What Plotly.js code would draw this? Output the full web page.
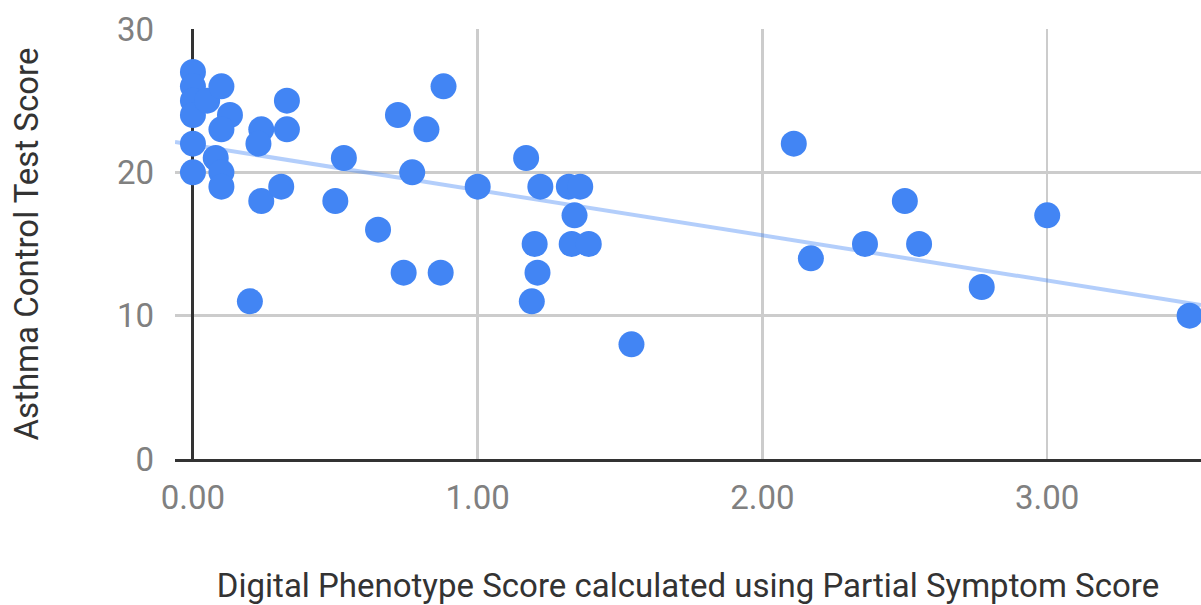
<!DOCTYPE html>
<html>
<head>
<meta charset="utf-8">
<script src="https://cdn.plot.ly/plotly-3.0.1.min.js"></script>
<style>html,body{margin:0;padding:0;background:#fff;}#chart{width:1201px;height:605px;}</style>
</head>
<body>
<div id="chart"></div>
<script>
// Digital Phenotype Score (x) vs Asthma Control Test Score (y)
const phenotypeScore = [
  0.00, 0.00, 0.00, 0.00, 0.05, 0.10, 0.13, 0.10, 0.00, 0.00, 0.08, 0.10, 0.10,
  0.20, 0.24, 0.23, 0.24, 0.33, 0.33, 0.31, 0.50, 0.53, 0.65, 0.72, 0.74, 0.77, 0.82, 0.87, 0.88,
  1.00, 1.17, 1.22, 1.32, 1.36, 1.34, 1.20, 1.33, 1.39, 1.21, 1.19, 1.54,
  2.11, 2.17, 2.36, 2.50, 2.55, 2.77, 3.00, 3.50
];
const actScore = [
  27, 26, 25, 24, 25, 26, 24, 23, 22, 20, 21, 20, 19,
  11, 23, 22, 18, 25, 23, 19, 18, 21, 16, 24, 13, 20, 23, 13, 26,
  19, 21, 19, 19, 19, 17, 15, 15, 15, 13, 11, 8,
  22, 14, 15, 18, 15, 12, 17, 10
];
const xTickVals = [0, 1, 2, 3];
const xTickText = ["0.00", "1.00", "2.00", "3.00"];
const yTickVals = [0, 10, 20, 30];
const xRange = [-0.063, 3.54];
const yRange = [0, 30];

// linear least-squares trendline computed from the data
const n = phenotypeScore.length;
const mx = phenotypeScore.reduce((a, b) => a + b, 0) / n;
const my = actScore.reduce((a, b) => a + b, 0) / n;
let sxy = 0, sxx = 0;
for (let i = 0; i < n; i++) {
  sxy += (phenotypeScore[i] - mx) * (actScore[i] - my);
  sxx += (phenotypeScore[i] - mx) ** 2;
}
const slope = sxy / sxx;
const intercept = my - slope * mx;
const trendX = [xRange[0], xRange[1]];
const trendY = trendX.map(v => intercept + slope * v);

const traces = [
  {
    x: trendX, y: trendY, type: 'scatter', mode: 'lines',
    line: {color: 'rgba(66,133,244,0.4)', width: 4},
    hoverinfo: 'skip', showlegend: false
  },
  {
    x: phenotypeScore, y: actScore, type: 'scatter', mode: 'markers',
    marker: {color: '#4285F4', size: 26, line: {width: 0}},
    showlegend: false
  }
];

const font = 'Roboto, Arial, sans-serif';
const layout = {
  width: 1201, height: 605,
  margin: {l: 175, r: 0, t: 29, b: 146},
  paper_bgcolor: '#fff', plot_bgcolor: '#fff',
  showlegend: false,
  xaxis: {
    range: xRange, tickvals: xTickVals, ticktext: xTickText,
    showgrid: true, gridcolor: '#cccccc', gridwidth: 2.5,
    zeroline: true, zerolinecolor: '#333333', zerolinewidth: 3,
    showline: true, linecolor: '#333333', linewidth: 3,
    ticks: '', ticklabelstandoff: 7,
    tickfont: {family: font, size: 33, color: '#808080'},
    title: {text: 'Digital Phenotype Score calculated using Partial Symptom Score',
            font: {family: font, size: 33, color: '#333333'}, standoff: 66}
  },
  yaxis: {
    range: yRange, tickvals: yTickVals,
    showgrid: true, gridcolor: '#cccccc', gridwidth: 2.5,
    zeroline: false, showline: false,
    ticks: '', ticklabelstandoff: 20,
    tickfont: {family: font, size: 33, color: '#808080'},
    title: {text: 'Asthma Control Test Score',
            font: {family: font, size: 33, color: '#333333'}, standoff: 68}
  }
};
Plotly.newPlot('chart', traces, layout, {displayModeBar: false, staticPlot: true});
</script>
</body>
</html>
